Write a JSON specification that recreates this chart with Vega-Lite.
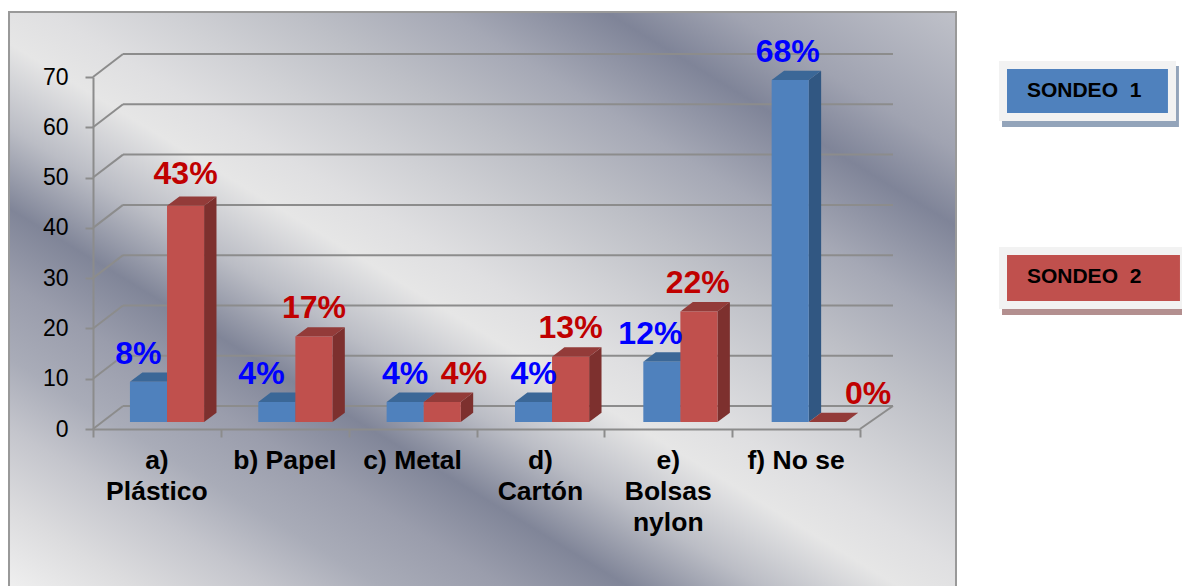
{
"$schema":"https://vega.github.io/schema/vega-lite/v6.json",
"width":767,"height":352,
"autosize":"none",
"padding":{"left":93,"top":77,"right":322,"bottom":157},
"background":"white",
"view":{"stroke":null},
"data":{"values":[
{"categoria":"a)\nPlástico","serie":"SONDEO 1","valor":8},
{"categoria":"a)\nPlástico","serie":"SONDEO 2","valor":43},
{"categoria":"b) Papel","serie":"SONDEO 1","valor":4},
{"categoria":"b) Papel","serie":"SONDEO 2","valor":17},
{"categoria":"c) Metal","serie":"SONDEO 1","valor":4},
{"categoria":"c) Metal","serie":"SONDEO 2","valor":4},
{"categoria":"d)\nCartón","serie":"SONDEO 1","valor":4},
{"categoria":"d)\nCartón","serie":"SONDEO 2","valor":13},
{"categoria":"e)\nBolsas\nnylon","serie":"SONDEO 1","valor":12},
{"categoria":"e)\nBolsas\nnylon","serie":"SONDEO 2","valor":22},
{"categoria":"f) No se","serie":"SONDEO 1","valor":68},
{"categoria":"f) No se","serie":"SONDEO 2","valor":0}
]},
"transform":[
{"calculate":"indexof('abcdef',substring(datum.categoria,0,1))","as":"orden"},
{"calculate":"datum.orden*1.004+(datum.serie==='SONDEO 1'?0.289:0.579)","as":"u0"},
{"calculate":"datum.u0+0.29","as":"u1"},
{"calculate":"datum.valor+1.39","as":"techo"},
{"calculate":"1.39","as":"piso"},
{"calculate":"datum.categoria+datum.serie","as":"barra"}
],
"layer":[
{"data":{"values":[{"caja":"panel"}]},"transform":[{"calculate":"-0.657","as":"a"},{"calculate":"6.751","as":"b"},{"calculate":"82.93","as":"c"},{"calculate":"-32","as":"d"}],
"mark":{"type":"rect","stroke":"#999999","strokeWidth":2,"fill":{"gradient":"linear","x1":0,"y1":1,"x2":1,"y2":0,"stops":[
{"offset":0,"color":"#f0f0f0"},{"offset":0.07,"color":"#dcdcde"},{"offset":0.14,"color":"#c4c5cc"},{"offset":0.2,"color":"#a9acb8"},{"offset":0.265,"color":"#9a9dac"},{"offset":0.33,"color":"#808598"},{"offset":0.4,"color":"#bbbdc5"},{"offset":0.473,"color":"#e6e6e6"},{"offset":0.52,"color":"#dfdfe1"},{"offset":0.58,"color":"#d0d1d5"},{"offset":0.65,"color":"#bdbfc6"},{"offset":0.73,"color":"#a5a8b5"},{"offset":0.815,"color":"#7f8498"},{"offset":0.88,"color":"#a0a3b1"},{"offset":1,"color":"#bfc1c9"}]}},
"encoding":{
"x":{"field":"a","type":"quantitative","scale":{"domain":[0,6],"nice":false,"zero":false},"axis":{"title":null,"values":[0,1,2,3,4,5,6],"labels":false,"grid":false,"domainColor":"#8c8c8c","domainWidth":2,"tickColor":"#8c8c8c","tickWidth":2,"tickSize":8,"zindex":1}},
"x2":{"field":"b"},
"y":{"field":"c","type":"quantitative","scale":{"domain":[0,70],"nice":false,"zero":false},"axis":{"title":null,"values":[0,10,20,30,40,50,60,70],"grid":false,"domainColor":"#8c8c8c","domainWidth":2,"tickColor":"#8c8c8c","tickWidth":2,"tickSize":8,"labelFont":"Liberation Sans","labelFontSize":23,"labelColor":"#000000","labelPadding":17,"zindex":1}},
"y2":{"field":"d"}}},
{"data":{"values":[{"tick":0},{"tick":10},{"tick":20},{"tick":30},{"tick":40},{"tick":50},{"tick":60},{"tick":70}]},
"transform":[{"calculate":"datum.tick+4.57","as":"atras"},{"calculate":"0.2347","as":"xa"},{"calculate":"6.258","as":"xb"},{"calculate":"0","as":"x0"}],
"mark":{"type":"rule","color":"#8c8c8c","strokeWidth":2},"encoding":{"x":{"field":"xa","type":"quantitative"},"x2":{"field":"xb"},"y":{"field":"atras","type":"quantitative"}}},
{"data":{"values":[{"tick":0},{"tick":10},{"tick":20},{"tick":30},{"tick":40},{"tick":50},{"tick":60},{"tick":70}]},
"transform":[{"calculate":"datum.tick+4.57","as":"atras"},{"calculate":"0.2347","as":"xa"},{"calculate":"0","as":"x0"}],
"mark":{"type":"rule","color":"#8c8c8c","strokeWidth":2},"encoding":{"x":{"field":"x0","type":"quantitative"},"x2":{"field":"xa"},"y":{"field":"tick","type":"quantitative"},"y2":{"field":"atras"}}},
{"data":{"values":[{"tick":0}]},"transform":[{"calculate":"6","as":"xa"},{"calculate":"6.258","as":"xb"},{"calculate":"4.57","as":"atras"}],
"mark":{"type":"rule","color":"#8c8c8c","strokeWidth":2},"encoding":{"x":{"field":"xa","type":"quantitative"},"x2":{"field":"xb"},"y":{"field":"tick","type":"quantitative"},"y2":{"field":"atras"}}},
{"transform":[{"calculate":"[0,1]","as":"e"},{"flatten":["e"]},{"calculate":"datum.u1+datum.e*0.097","as":"sx"},{"calculate":"datum.techo+datum.e*1.85","as":"sTop"},{"calculate":"1.39+datum.e*1.85","as":"sBase"},{"calculate":"datum.serie+' lado'","as":"rol"}],
"mark":{"type":"area","opacity":1},
"encoding":{"x":{"field":"sx","type":"quantitative"},"y":{"field":"sTop","type":"quantitative","stack":null},"y2":{"field":"sBase"},"detail":{"field":"barra"},
"color":{"field":"rol","type":"nominal","legend":null,"scale":{"domain":["SONDEO 1 lado","SONDEO 2 lado","SONDEO 1 techo","SONDEO 2 techo","SONDEO 1 frente","SONDEO 2 frente","SONDEO 1 texto","SONDEO 2 texto"],"range":["#315782","#7d302e","#3b6797","#933b39","#4f81bd","#c0504d","#0000ff","#c00000"]}}}},
{"transform":[{"calculate":"[0,1,2,3]","as":"p"},{"flatten":["p"]},{"calculate":"[datum.u0,datum.u0+0.097,datum.u1,datum.u1+0.097][datum.p]","as":"tx"},{"calculate":"datum.techo+1.85*[0,1,1,1][datum.p]","as":"ySup"},{"calculate":"datum.techo+1.85*[0,0,0,1][datum.p]","as":"yInf"},{"calculate":"datum.serie+' techo'","as":"rol"}],
"mark":{"type":"area","opacity":1},
"encoding":{"x":{"field":"tx","type":"quantitative"},"y":{"field":"ySup","type":"quantitative","stack":null},"y2":{"field":"yInf"},"detail":{"field":"barra"},
"color":{"field":"rol","type":"nominal","legend":null}}},
{"transform":[{"calculate":"datum.serie+' frente'","as":"rol"}],"mark":{"type":"rect"},"encoding":{"x":{"field":"u0","type":"quantitative"},"x2":{"field":"u1"},"y":{"field":"piso","type":"quantitative"},"y2":{"field":"techo"},
"color":{"field":"rol","type":"nominal","legend":null}}},
{"transform":[{"calculate":"datum.u0+0.145+(datum.serie==='SONDEO 1'?[-0.08,-0.12,0,0,-0.09,-0.02]:[0,0,0.17,0,-0.01,0.32])[datum.orden]","as":"tx"},{"calculate":"datum.techo+(datum.valor===43?6.4:5.6)","as":"ty"},{"calculate":"datum.valor+'%'","as":"rotulo"},{"calculate":"datum.serie+' texto'","as":"rol"}],
"mark":{"type":"text","font":"Liberation Sans","fontWeight":"bold","fontSize":32,"baseline":"middle","align":"center"},
"encoding":{"x":{"field":"tx","type":"quantitative"},"y":{"field":"ty","type":"quantitative"},"text":{"field":"rotulo"},
"color":{"field":"rol","type":"nominal","legend":null}}},
{"transform":[{"filter":"datum.serie==='SONDEO 1'"},{"calculate":"datum.orden+0.5","as":"cx"},{"calculate":"-3.8","as":"cy"}],
"mark":{"type":"text","font":"Liberation Sans","fontWeight":"bold","fontSize":26.5,"baseline":"top","align":"center","lineBreak":"\n","lineHeight":31,"color":"#000000"},
"encoding":{"x":{"field":"cx","type":"quantitative"},"y":{"field":"cy","type":"quantitative"},"text":{"field":"categoria"}}},
{"data":{"values":[{"caja":"s1"}]},"transform":[{"calculate":"7.111","as":"a"},{"calculate":"8.495","as":"b"},{"calculate":"72.19","as":"c"},{"calculate":"60.06","as":"d"}],"mark":{"type":"rect","color":"#93a4ba"},"encoding":{"x":{"field":"a","type":"quantitative"},"x2":{"field":"b"},"y":{"field":"c","type":"quantitative"},"y2":{"field":"d"}}},
{"data":{"values":[{"caja":"m1"}]},"transform":[{"calculate":"7.087","as":"a"},{"calculate":"8.472","as":"b"},{"calculate":"73.18","as":"c"},{"calculate":"61.25","as":"d"}],"mark":{"type":"rect","color":"#f2f2f2"},"encoding":{"x":{"field":"a","type":"quantitative"},"x2":{"field":"b"},"y":{"field":"c","type":"quantitative"},"y2":{"field":"d"}}},
{"data":{"values":[{"caja":"c1"}]},"transform":[{"calculate":"7.15","as":"a"},{"calculate":"8.409","as":"b"},{"calculate":"71.59","as":"c"},{"calculate":"62.84","as":"d"}],"mark":{"type":"rect","color":"#4f81bd"},"encoding":{"x":{"field":"a","type":"quantitative"},"x2":{"field":"b"},"y":{"field":"c","type":"quantitative"},"y2":{"field":"d"}}},
{"data":{"values":[{"caja":"s2"}]},"transform":[{"calculate":"7.111","as":"a"},{"calculate":"8.519","as":"b"},{"calculate":"35.2","as":"c"},{"calculate":"22.67","as":"d"}],"mark":{"type":"rect","color":"#b38f8f"},"encoding":{"x":{"field":"a","type":"quantitative"},"x2":{"field":"b"},"y":{"field":"c","type":"quantitative"},"y2":{"field":"d"}}},
{"data":{"values":[{"caja":"m2"}]},"transform":[{"calculate":"7.087","as":"a"},{"calculate":"8.519","as":"b"},{"calculate":"36.19","as":"c"},{"calculate":"23.86","as":"d"}],"mark":{"type":"rect","color":"#f2f2f2"},"encoding":{"x":{"field":"a","type":"quantitative"},"x2":{"field":"b"},"y":{"field":"c","type":"quantitative"},"y2":{"field":"d"}}},
{"data":{"values":[{"caja":"c2"}]},"transform":[{"calculate":"7.15","as":"a"},{"calculate":"8.503","as":"b"},{"calculate":"34.6","as":"c"},{"calculate":"25.45","as":"d"}],"mark":{"type":"rect","color":"#c0504d"},"encoding":{"x":{"field":"a","type":"quantitative"},"x2":{"field":"b"},"y":{"field":"c","type":"quantitative"},"y2":{"field":"d"}}},
{"data":{"values":[{"serie":"SONDEO \u00a01"}]},"transform":[{"calculate":"7.306","as":"a"},{"calculate":"67.21","as":"c"}],"mark":{"type":"text","font":"Liberation Sans","fontWeight":"bold","fontSize":21,"align":"left","baseline":"middle","color":"#000000"},"encoding":{"x":{"field":"a","type":"quantitative"},"y":{"field":"c","type":"quantitative"},"text":{"field":"serie"}}},
{"data":{"values":[{"serie":"SONDEO \u00a02"}]},"transform":[{"calculate":"7.306","as":"a"},{"calculate":"30.23","as":"c"}],"mark":{"type":"text","font":"Liberation Sans","fontWeight":"bold","fontSize":21,"align":"left","baseline":"middle","color":"#000000"},"encoding":{"x":{"field":"a","type":"quantitative"},"y":{"field":"c","type":"quantitative"},"text":{"field":"serie"}}}
]
}
